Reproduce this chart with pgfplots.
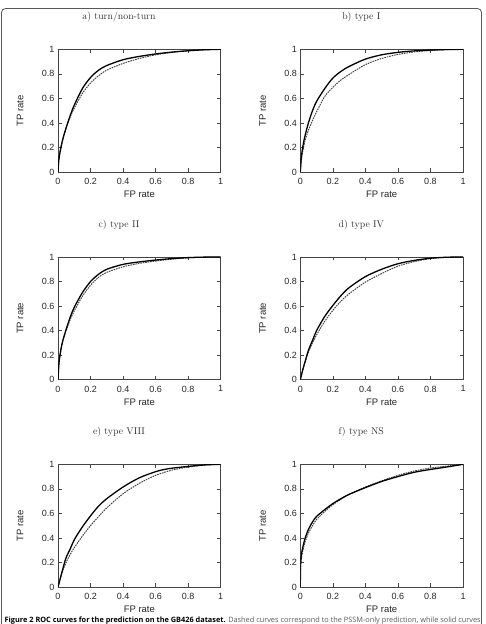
\documentclass[border=0pt]{standalone}
\usepackage{fontspec}
\usepackage{pgfplots}
\pgfplotsset{compat=1.18}
\newfontfamily\helv{Liberation Sans}
\newfontfamily\capfont{Open Sans}
\definecolor{axgray}{HTML}{444444}
\pgfplotsset{rocax/.style={
  scale only axis, width=162.7pt, height=122.7pt,
  xmin=0,xmax=1,ymin=0,ymax=1,
  xtick={0,0.2,0.4,0.6,0.8,1}, ytick={0,0.2,0.4,0.6,0.8,1},
  xticklabels={0,0.2,0.4,0.6,0.8,1}, yticklabels={0,0.2,0.4,0.6,0.8,1},
  tick align=inside, major tick length=3.5pt,
  axis line style={draw=axgray, line width=0.6pt},
  every tick/.style={axgray, line width=0.6pt},
  tick label style={font=\helv\fontsize{9}{10}\selectfont, text=black!85},
  /pgf/number format/assume math mode=true,
  xticklabel style={yshift=-2.5pt},
  label style={font=\helv\fontsize{9.5}{11}\selectfont, text=black!85},
  xlabel={FP rate}, ylabel={TP rate},
  xlabel style={at={(axis description cs:0.5,-0.18)},anchor=center},
  ylabel style={at={(axis description cs:-0.232,0.5)},anchor=center},
  title style={at={(axis description cs:0.375,1.21)},anchor=center,font=\fontsize{9.8}{11}\selectfont, text=black!80},
  solidc/.style={black, line width=1.3pt, smooth, tension=0.5},
  dashc/.style={black!75, line width=0.95pt, dash pattern=on 1.6pt off 0.9pt, smooth, tension=0.5},
}}
\begin{document}
\begin{tikzpicture}
\useasboundingbox (0pt,0pt) rectangle (486pt,624pt);
\draw[black!65, line width=0.8pt, rounded corners=4pt] (1.5pt,-10pt) -- (1.5pt,615.5pt) -- (481.5pt,615.5pt) -- (481.5pt,-10pt);
% a
\begin{axis}[rocax, at={(58pt,452pt)}, anchor=south west, title={a) turn/non-turn}]
\addplot[dashc] coordinates {(0,0)(0.005,0.1)(0.015,0.18)(0.03,0.27)(0.05,0.36)(0.075,0.45)(0.1,0.52)(0.15,0.64)(0.2,0.725)(0.25,0.785)(0.3,0.83)(0.4,0.885)(0.5,0.925)(0.6,0.955)(0.7,0.975)(0.8,0.989)(0.9,0.996)(1,1)};
\addplot[solidc] coordinates {(0,0)(0.005,0.1)(0.015,0.18)(0.03,0.27)(0.05,0.36)(0.075,0.46)(0.1,0.545)(0.15,0.68)(0.2,0.77)(0.25,0.83)(0.3,0.868)(0.4,0.915)(0.5,0.942)(0.6,0.962)(0.7,0.977)(0.8,0.988)(0.9,0.996)(1,1)};
\end{axis}
% b
\begin{axis}[rocax, at={(300.3pt,452pt)}, anchor=south west, title={b) type I}]
\addplot[dashc] coordinates {(0,0)(0.005,0.08)(0.01,0.13)(0.02,0.2)(0.03,0.26)(0.05,0.34)(0.075,0.42)(0.1,0.49)(0.15,0.615)(0.2,0.69)(0.25,0.75)(0.3,0.795)(0.4,0.875)(0.5,0.925)(0.6,0.958)(0.7,0.978)(0.8,0.99)(0.9,0.997)(1,1)};
\addplot[solidc] coordinates {(0,0)(0.005,0.1)(0.01,0.16)(0.02,0.24)(0.03,0.3)(0.05,0.4)(0.075,0.5)(0.1,0.575)(0.15,0.68)(0.2,0.765)(0.25,0.82)(0.3,0.86)(0.4,0.92)(0.5,0.955)(0.6,0.975)(0.7,0.987)(0.8,0.994)(0.9,0.998)(1,1)};
\end{axis}
% c
\begin{axis}[rocax, at={(58pt,244.3pt)}, anchor=south west, title={c) type II}]
\addplot[dashc] coordinates {(0,0)(0.005,0.12)(0.01,0.18)(0.02,0.26)(0.03,0.32)(0.05,0.4)(0.075,0.49)(0.1,0.56)(0.15,0.68)(0.2,0.77)(0.25,0.835)(0.3,0.875)(0.4,0.92)(0.5,0.948)(0.6,0.967)(0.7,0.982)(0.8,0.993)(0.9,0.998)(1,1)};
\addplot[solidc] coordinates {(0,0)(0.005,0.12)(0.01,0.18)(0.02,0.26)(0.03,0.32)(0.05,0.41)(0.075,0.51)(0.1,0.59)(0.15,0.71)(0.2,0.8)(0.25,0.86)(0.3,0.9)(0.4,0.94)(0.5,0.96)(0.6,0.975)(0.7,0.987)(0.8,0.995)(0.9,0.999)(1,1)};
\end{axis}
% d
\begin{axis}[rocax, at={(300.3pt,244.3pt)}, anchor=south west, title={d) type IV}]
\addplot[dashc] coordinates {(0,0)(0.01,0.05)(0.02,0.1)(0.03,0.145)(0.05,0.225)(0.075,0.3)(0.1,0.365)(0.15,0.475)(0.2,0.565)(0.25,0.64)(0.3,0.7)(0.4,0.795)(0.5,0.865)(0.6,0.925)(0.7,0.962)(0.8,0.987)(0.9,0.997)(1,1)};
\addplot[solidc] coordinates {(0,0)(0.01,0.055)(0.02,0.105)(0.03,0.15)(0.05,0.24)(0.075,0.32)(0.1,0.4)(0.15,0.515)(0.2,0.605)(0.25,0.685)(0.3,0.75)(0.4,0.84)(0.5,0.9)(0.6,0.945)(0.7,0.972)(0.8,0.99)(0.9,0.998)(1,1)};
\end{axis}
% e
\begin{axis}[rocax, at={(58pt,37pt)}, anchor=south west, title={e) type VIII}]
\addplot[dashc] coordinates {(0,0)(0.01,0.05)(0.02,0.095)(0.03,0.135)(0.05,0.2)(0.075,0.265)(0.1,0.32)(0.15,0.415)(0.2,0.5)(0.25,0.575)(0.3,0.645)(0.4,0.76)(0.5,0.845)(0.6,0.91)(0.7,0.952)(0.8,0.977)(0.9,0.993)(1,1)};
\addplot[solidc] coordinates {(0,0)(0.01,0.05)(0.02,0.1)(0.03,0.15)(0.05,0.24)(0.075,0.31)(0.1,0.385)(0.15,0.49)(0.2,0.58)(0.25,0.66)(0.3,0.72)(0.4,0.815)(0.5,0.89)(0.6,0.94)(0.65,0.957)(0.7,0.968)(0.8,0.983)(0.9,0.995)(1,1)};
\end{axis}
% f
\begin{axis}[rocax, at={(300.3pt,37pt)}, anchor=south west, title={f) type NS}]
\addplot[dashc] coordinates {(0,0)(0.001,0.12)(0.003,0.19)(0.01,0.26)(0.02,0.32)(0.03,0.37)(0.05,0.44)(0.075,0.5)(0.1,0.55)(0.15,0.615)(0.2,0.67)(0.25,0.715)(0.3,0.755)(0.4,0.815)(0.5,0.865)(0.6,0.91)(0.7,0.945)(0.8,0.97)(0.9,0.985)(1,1)};
\addplot[solidc] coordinates {(0,0)(0.001,0.15)(0.003,0.22)(0.01,0.29)(0.02,0.35)(0.03,0.4)(0.05,0.47)(0.075,0.53)(0.1,0.575)(0.15,0.63)(0.2,0.68)(0.25,0.72)(0.3,0.755)(0.4,0.81)(0.5,0.86)(0.6,0.9)(0.7,0.935)(0.8,0.958)(0.9,0.978)(1,1)};
\end{axis}
\node[anchor=base west, inner sep=0pt] at (4.5pt,1.6pt) {\resizebox{476pt}{!}{\capfont\fontsize{7}{8}\selectfont\textbf{Figure 2 ROC curves for the prediction on the GB426 dataset.} \textcolor{black!65}{Dashed curves correspond to the PSSM-only prediction, while solid curves}}};
\end{tikzpicture}
\end{document}
